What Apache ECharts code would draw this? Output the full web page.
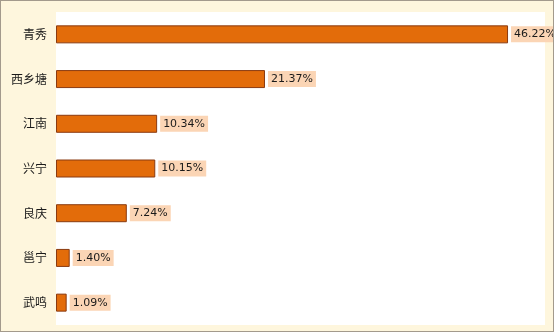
<!DOCTYPE html>
<html><head><meta charset="utf-8">
<script src="https://cdn.jsdelivr.net/npm/echarts@6/dist/echarts.min.js"></script>
<style>html,body{margin:0;padding:0;}#c{width:554px;height:332px;box-sizing:border-box;border:1px solid #a39a8c;}</style>
</head><body><div id="c"></div>
<script>
const categories = ['青秀','西乡塘','江南','兴宁','良庆','邕宁','武鸣'];
const values = [46.22, 21.37, 10.34, 10.15, 7.24, 1.40, 1.09];
const axisMax = 50;

const chart = echarts.init(document.getElementById('c'));
chart.setOption({
  backgroundColor: '#fef6dd',
  animation: false,
  grid: {left: 55, right: 8, top: 11, bottom: 6, show: true, backgroundColor: '#ffffff', borderWidth: 0},
  xAxis: {type: 'value', min: 0, max: axisMax, show: false},
  yAxis: {
    type: 'category', data: categories, inverse: true,
    axisLine: {show: false}, axisTick: {show: false},
    axisLabel: {color: '#1a1a1a', fontSize: 12, margin: 9, fontFamily: 'Noto Sans CJK SC'}
  },
  series: [{
    type: 'bar', data: values, barWidth: 18,
    itemStyle: {color: '#e36c0a', borderColor: '#8a3a10', borderWidth: 1},
    label: {
      show: true, position: 'right', distance: 3,
      formatter: p => p.value.toFixed(2) + '%',
      color: '#1a1a1a', fontSize: 11, fontFamily: 'DejaVu Sans',
      backgroundColor: '#fbd5b5', padding: [3, 3, 2, 3]
    }
  }]
});
</script></body></html>
